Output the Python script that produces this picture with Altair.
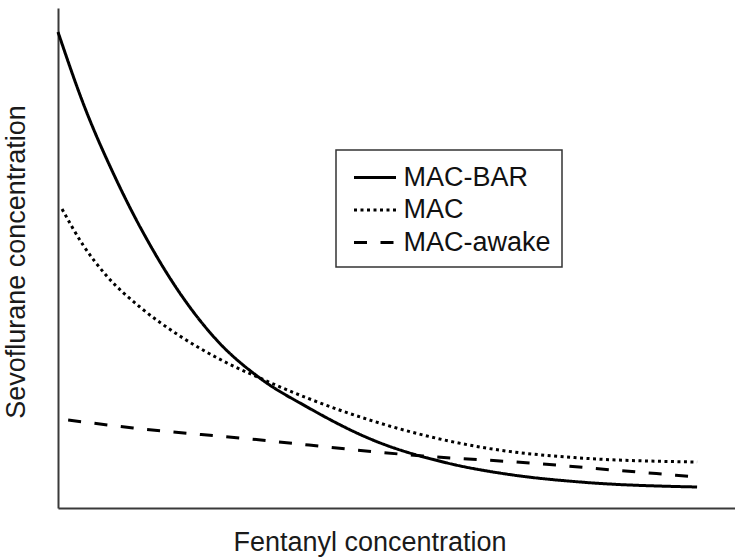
import altair as alt
import pandas as pd

# Series values (arbitrary units)
series_names = ["MAC-BAR", "MAC", "MAC-awake"]

x_bar = [0, 3.7, 8.7, 13.6, 18.5, 23.5, 29.8, 36.8, 46.5, 57.5, 67.2, 77.1, 94.4]
y_bar = [95.2, 81, 65.4, 52.6, 42, 33.5, 26.0, 20.2, 13.6, 9, 6.6, 5.2, 4.2]

x_mac = [0.6, 3.7, 7.2, 12.1, 18, 24.4, 29.8, 36.8, 46.5, 62.3, 77.1, 94.4]
y_mac = [59.8, 52.6, 46.4, 40.2, 34.4, 29.4, 26.0, 22.0, 17.4, 12.2, 10, 9.2]

x_awake = [1.5, 11.1, 26.9, 53.9, 69.7, 82, 94.4]
y_awake = [17.6, 16, 14, 10.4, 9, 7.6, 6.2]

rows = []
for name, xs, ys in [("MAC-BAR", x_bar, y_bar), ("MAC", x_mac, y_mac), ("MAC-awake", x_awake, y_awake)]:
    for i, (xv, yv) in enumerate(zip(xs, ys)):
        rows.append({"series": name, "order": i, "fentanyl": xv, "sevo": yv})
df = pd.DataFrame(rows)

FONT = "Liberation Sans"

chart = (
    alt.Chart(df)
    .mark_line(strokeWidth=3, color="black", interpolate="monotone", strokeCap="butt")
    .encode(
        x=alt.X(
            "fentanyl:Q",
            scale=alt.Scale(domain=[0, 100], nice=False, zero=False),
            axis=alt.Axis(
                title="Fentanyl concentration",
                ticks=False, labels=False, grid=False,
                domainColor="#3a3a3a", domainWidth=2,
                titleFont=FONT, titleFontSize=27, titleFontWeight="normal",
                titleColor="#1a1a1a", titlePadding=21, titleX=311.5,
            ),
        ),
        y=alt.Y(
            "sevo:Q",
            scale=alt.Scale(domain=[0, 100], nice=False, zero=False),
            axis=alt.Axis(
                title="Sevoflurane concentration",
                ticks=False, labels=False, grid=False,
                domainColor="#3a3a3a", domainWidth=2,
                titleFont=FONT, titleFontSize=27, titleFontWeight="normal",
                titleColor="#1a1a1a", titlePadding=28, titleY=253.5,
            ),
        ),
        strokeDash=alt.StrokeDash(
            "series:N",
            scale=alt.Scale(domain=series_names, range=[[1, 0], [3, 3.5], [13, 13.5]]),
            legend=alt.Legend(
                title=None, orient="none", legendX=278, legendY=142,
                symbolType="M-1.4,0H1.4", symbolSize=900, symbolStrokeWidth=3,
                symbolStrokeColor="black", symbolFillColor="transparent",
                symbolOffset=11.5, labelOffset=12,
                labelFont=FONT, labelFontSize=27, labelColor="#111111", labelLimit=0,
                strokeColor="#333333", padding=11, rowPadding=2.5,
            ),
        ),
        order="order:Q",
    )
    .properties(
        width=677, height=500,
        autosize=alt.AutoSizeParams(type="none"),
        padding={"left": 58, "top": 8, "right": 0, "bottom": 52},
    )
    .configure_view(stroke=None)
    .configure_legend(strokeWidth=1.5)
)

chart.save("out.html", embed_options={"renderer": "svg", "actions": False})
